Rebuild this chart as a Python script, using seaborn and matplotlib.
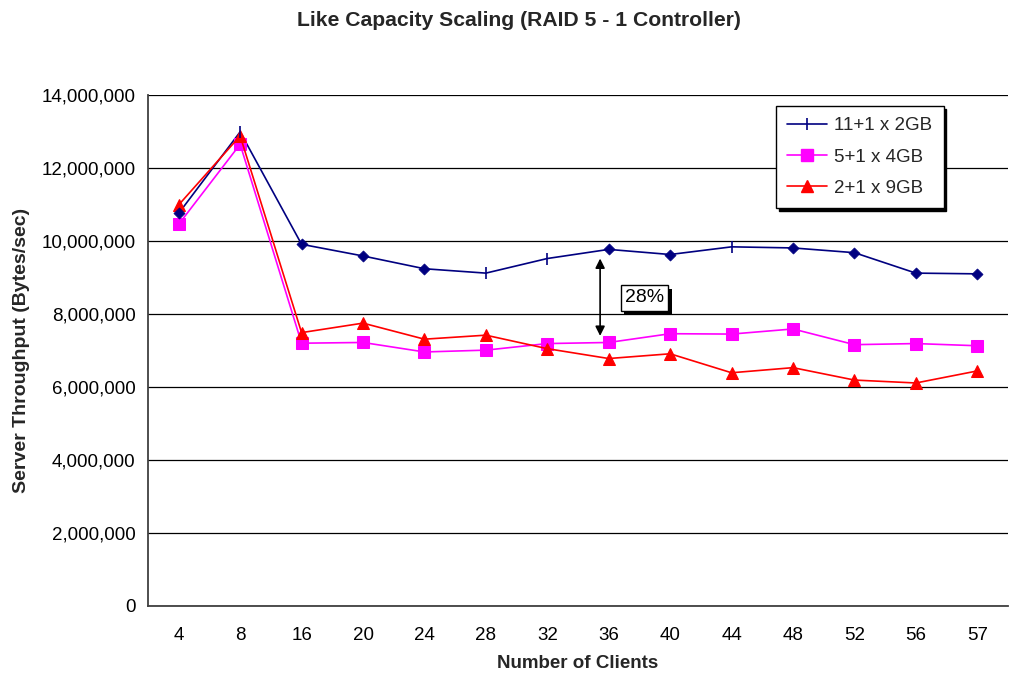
import matplotlib
matplotlib.use("Agg")
import matplotlib.pyplot as plt
import matplotlib.ticker as mticker
import matplotlib.patheffects as pe
from matplotlib.lines import Line2D
import seaborn as sns
import pandas as pd
import numpy as np

clients = ["4", "8", "16", "20", "24", "28", "32", "36", "40", "44", "48", "52", "56", "57"]
raid_11x2 = [10760000, 12990000, 9910000, 9590000, 9240000, 9120000, 9520000,
             9770000, 9630000, 9840000, 9810000, 9680000, 9120000, 9100000]
raid_5x4 = [10460000, 12650000, 7200000, 7220000, 6960000, 7010000, 7190000,
            7220000, 7460000, 7450000, 7590000, 7160000, 7190000, 7130000]
raid_2x9 = [10990000, 12880000, 7490000, 7750000, 7310000, 7420000, 7050000,
            6780000, 6910000, 6390000, 6530000, 6190000, 6110000, 6440000]
# points of the 11+1 series drawn with a tick instead of a diamond
tick_points = ["8", "28", "32", "44"]
series_names = ["11+1 x 2GB", "5+1 x 4GB", "2+1 x 9GB"]
gap_label = "28%"

sns.set_theme(style="white")
plt.rcParams["font.family"] = ["Liberation Sans", "DejaVu Sans"]

pos = np.arange(len(clients))
df = pd.DataFrame({"pos": pos, "client": clients,
                   "a": raid_11x2, "b": raid_5x4, "c": raid_2x9})

fig = plt.figure(figsize=(10.10, 6.77), dpi=100)
ax = fig.add_axes([148 / 1010, 1 - 606 / 677, 860 / 1010, 511 / 677])

navy, pink, red = "#000080", "#FF00FF", "#FF0000"
lw = 1.2

# 11+1 x 2GB: line, then diamonds / ticks per point
sns.lineplot(data=df, x="pos", y="a", ax=ax, color=navy, lw=lw, legend=False)
is_tick = df["client"].isin(tick_points)
sns.scatterplot(data=df[~is_tick], x="pos", y="a", ax=ax, color=navy,
                marker="D", s=32, edgecolor=navy, linewidth=0.5, legend=False, zorder=3)
sns.scatterplot(data=df[is_tick], x="pos", y="a", ax=ax, color=navy,
                marker="|", s=70, linewidth=1.2, legend=False, zorder=3)

sns.lineplot(data=df, x="pos", y="b", ax=ax, color=pink, lw=lw, marker="s",
             markersize=8, markeredgecolor=pink, legend=False)
sns.lineplot(data=df, x="pos", y="c", ax=ax, color=red, lw=lw, marker="^",
             markersize=8, markeredgecolor=red, legend=False)

# axes
ax.set_xlim(-0.5, len(clients) - 0.5)
ax.set_ylim(0, 14000000)
ax.yaxis.set_major_locator(mticker.MultipleLocator(2000000))
ax.yaxis.set_major_formatter(mticker.StrMethodFormatter("{x:,.0f}"))
ax.set_xticks(pos)
ax.set_xticklabels(clients)
ax.set_xticks(np.arange(-0.5, len(clients)), minor=True)
ax.tick_params(axis="x", which="major", length=0, pad=15, labelsize=13.5, colors="black")
ax.tick_params(axis="x", which="minor", length=5, width=1, color="#404040", direction="out")
ax.tick_params(axis="y", which="major", length=5, width=1, color="#404040",
               direction="out", labelsize=13.5, pad=4, labelcolor="black")
ax.yaxis.grid(True, color="black", lw=0.9)
ax.xaxis.grid(False)
ax.set_axisbelow(True)
for side in ["top", "right"]:
    ax.spines[side].set_visible(False)
for side in ["left", "bottom"]:
    ax.spines[side].set_color("#404040")
    ax.spines[side].set_linewidth(1.3)

ax.set_xlabel("Number of Clients", fontsize=13.5, fontweight="bold", labelpad=8)
ax.set_ylabel("Server Throughput (Bytes/sec)", fontsize=14, fontweight="bold", labelpad=8)

fig.text(519 / 1010, 1 - 20 / 677, "Like Capacity Scaling (RAID 5 - 1 Controller)",
         ha="center", va="center", fontsize=15.2, fontweight="bold")

# gap annotation between the 11+1 and 5+1 series at 36 clients
i36 = clients.index("36")
ax.annotate("", xy=(i36 - 0.14, raid_11x2[i36] - 250000),
            xytext=(i36 - 0.14, raid_5x4[i36] + 180000),
            arrowprops=dict(arrowstyle="<|-|>", color="black", lw=1.2,
                            mutation_scale=14, shrinkA=0, shrinkB=0))
label = ax.text(i36 + 0.58, 8440000, gap_label, ha="center", va="center",
                fontsize=14, color="black",
                bbox=dict(boxstyle="square,pad=0.22", fc="white", ec="black", lw=1))
label.get_bbox_patch().set_path_effects([
    pe.SimplePatchShadow(offset=(2.5, -2.5), shadow_rgbFace="black", alpha=1),
    pe.Normal(),
])

handles = [
    Line2D([], [], color=navy, lw=lw, marker="|", markersize=9, markeredgewidth=1.2),
    Line2D([], [], color=pink, lw=lw, marker="s", markersize=8, markeredgecolor=pink),
    Line2D([], [], color=red, lw=lw, marker="^", markersize=8, markeredgecolor=red),
]
leg = fig.legend(handles, series_names, loc="upper left",
                 bbox_to_anchor=(776 / 1010, 1 - 106 / 677), borderaxespad=0,
                 fontsize=13.5, frameon=True, fancybox=False, edgecolor="black",
                 framealpha=1, shadow={"color": "black", "alpha": 1}, borderpad=0.6,
                 labelspacing=0.75, handlelength=2.1, handletextpad=0.4)
leg.get_frame().set_linewidth(1.0)

fig.savefig("out.png", dpi=100)
